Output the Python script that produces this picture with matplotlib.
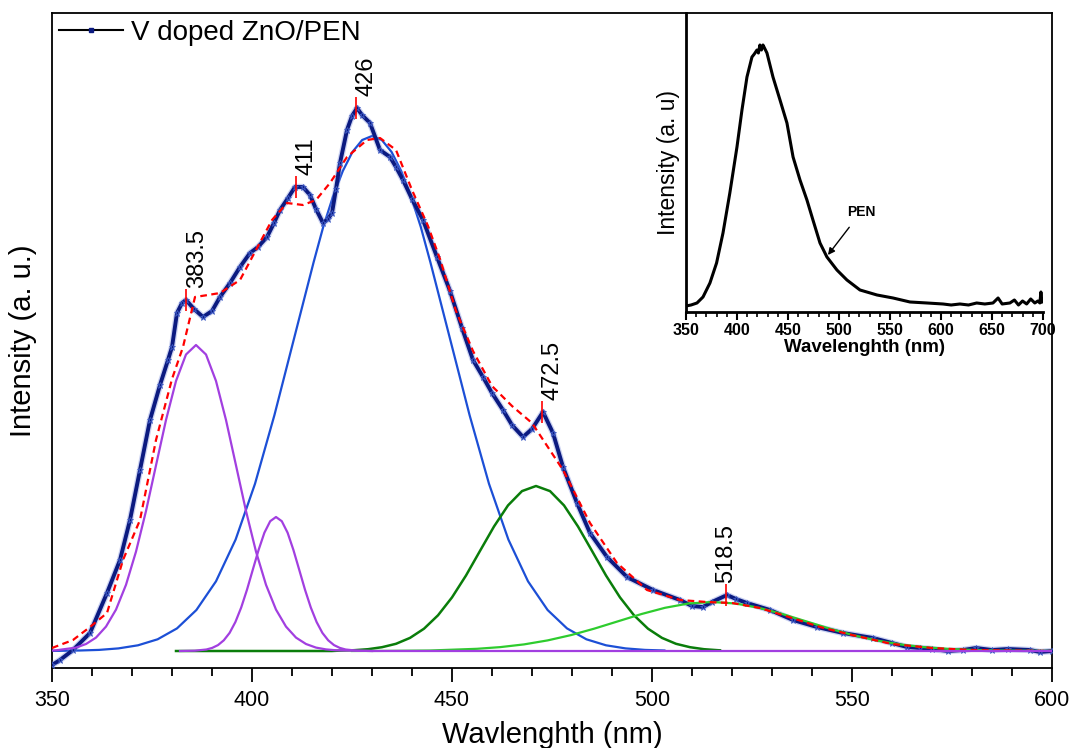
"""V掺杂ZnO/PEN 光致发光谱及高斯分峰拟合图 (插图为PEN衬底的PL谱)."""
import matplotlib.pyplot as plt
from matplotlib.lines import Line2D
from matplotlib.ticker import MultipleLocator

plt.rcParams["font.family"] = ["Liberation Sans", "DejaVu Sans"]

# 实测光谱 (主图, 任意单位)
data_wl = [350, 352, 355.25, 359.5, 363.75, 367, 369.5, 372, 374.5, 377, 379, 380,
           381.25, 382.5, 383.5, 385.5, 387.75, 390, 392, 394.5, 397, 399.5, 401.5,
           403.75, 405.5, 407, 409, 410.75, 412.75, 414.5, 416, 417.75, 419, 420, 421,
           422, 423.75, 425, 426.25, 427.5, 429.5, 432, 434.5, 436, 437.75, 440,
           442.75, 446.25, 449.5, 452.5, 455.25, 457.75, 460, 462.75, 465, 467.75,
           470, 472.75, 475.25, 477.75, 481.25, 484.5, 488.75, 493.75, 500.25, 507,
           510, 512.75, 515, 518.75, 521, 523.75, 529.5, 535.25, 541.25, 547.75,
           555.25, 560, 563.75, 567, 570, 574, 577.75, 581, 585, 589, 594.5, 597, 600]
data_int = [-14, -9, 1, 18, 58, 91, 131, 181, 231, 266, 291, 304,
            338, 348, 351, 342, 334, 340, 354, 368, 384, 398, 404,
            414, 428, 441, 453, 464, 464, 456, 442, 428, 432, 438, 462,
            488, 521, 535, 543, 536, 528, 501, 494, 484, 471, 452,
            431, 394, 360, 323, 291, 274, 258, 241, 226, 214,
            222, 239, 218, 184, 148, 118, 94, 74, 61, 51,
            45, 44, 49, 56, 52, 48, 41, 31, 24, 18,
            13, 8, 4, 3, 2, 0, 1, 3, 1, 2, 1, -1, 0]

# 拟合总曲线 (红色虚线)
fit_wl = [350, 355.25, 359.5, 363.75, 367.75, 372, 376, 380, 382.75, 385.75, 389,
          392, 397, 401, 405, 408.75, 412.75, 416, 419.5, 423.75, 428.75, 432, 436,
          440, 444, 447, 451, 455.25, 460, 465, 470, 477.75, 484.5, 491.25, 498.75,
          507, 513.75, 520, 527, 535, 542, 550, 560, 570, 580, 590, 600]
fit_int = [3, 11, 24, 38, 91, 131, 211, 272, 304, 354, 356,
           358, 371, 401, 431, 448, 446, 451, 468, 494, 511, 513, 501,
           461, 425, 392, 340, 300, 265, 245, 228, 181, 128, 88, 61,
           51, 49, 48, 43, 33, 24, 16, 7, 3, 1, 0.5, 0]

# 分峰 1 (紫色, ~386 nm)
peak1_wl = [350, 351, 356, 358.5, 361, 363.5, 366, 368.5, 371, 373.5, 376, 378.5,
            381, 383.5, 386, 388.5, 391, 393.5, 396, 398.5, 401, 403.5, 406, 408.5,
            411, 413.5, 416, 418.5, 421, 430, 600]
peak1_int = [0.4, 0.7, 3.4, 7.0, 13.4, 24.4, 41.4, 66.2, 99.4, 140, 185.6, 231,
             270, 296.5, 306, 296.5, 270, 231, 185.6, 140, 99.4, 66.2, 41.4, 24.4,
             13.4, 7.0, 3.4, 1.6, 0.7, 0, 0]

# 分峰 2 (紫色, ~406 nm)
peak2_wl = [382, 385.7, 388.6, 390.05, 391.5, 392.95, 394.4, 395.85, 397.3, 398.75,
            400.2, 401.65, 403.1, 404.55, 406, 407.45, 408.9, 410.35, 411.8, 413.25,
            414.7, 416.15, 417.6, 419.05, 420.5, 421.95, 423.4, 426.3, 430]
peak2_int = [0, 0.3, 1.5, 3.1, 5.9, 10.7, 18.1, 29, 43.5, 61.3,
             81.3, 101.1, 118.3, 129.8, 134, 129.8, 118.3, 101.1, 81.3, 61.3,
             43.5, 29, 18.1, 10.7, 5.9, 3.1, 1.5, 0.3, 0]

# 分峰 3 (蓝色, ~430 nm)
peak3_wl = [350, 352, 356.9, 361.75, 366.6, 371.5, 376.4, 381.25, 386.1, 391, 395.9,
            400.75, 405.6, 410.5, 415.4, 417.8, 420.25, 422.7, 425.1, 427.55, 430,
            432.45, 434.9, 437.3, 439.75, 442.2, 444.6, 449.5, 454.4, 459.25, 464.1,
            469, 473.9, 478.75, 483.6, 488.5, 493.4, 498.25, 503.1]
peak3_int = [0.1, 0.2, 0.5, 1.1, 2.6, 5.7, 11.7, 22.6, 41, 69.7, 111.4,
             167.2, 235.8, 312.3, 388.7, 424, 454.5, 480, 499, 511, 515,
             511, 499, 480, 454.5, 424, 388.7, 312.3, 235.8, 167.2, 111.4,
             69.7, 41, 22.6, 11.7, 5.7, 2.6, 1.1, 0.5]

# 分峰 4 (深绿, ~471 nm)
peak4_wl = [381, 420, 422, 425.5, 429, 432.5, 436, 439.5, 443, 446.5, 450, 453.5,
            457, 460.5, 464, 467.5, 471, 474.5, 478, 481.5, 485, 488.5, 492, 495.5,
            499, 502.5, 506, 509.5, 513, 516.5, 517]
peak4_int = [0, 0, 0.4, 0.8, 1.8, 3.8, 7.2, 13.1, 22.3, 35.7, 53.6, 75.5,
             100.1, 124.5, 145.6, 159.9, 165, 159.9, 145.6, 124.5, 100.1, 75.5, 53.6, 35.7,
             22.3, 13.1, 7.2, 3.8, 1.8, 0.8, 0.7]

# 分峰 5 (浅绿, ~515 nm)
peak5_wl = [425, 432.75, 444.5, 456.25, 462.1, 468, 473.9, 479.75, 485.6, 491.5,
            497.4, 503.25, 509.1, 515, 520.9, 526.75, 532.6, 538.5, 544.4, 550.25,
            556.1, 562, 567.9, 573.75, 579.6, 585.5, 600]
peak5_int = [0, 0.1, 0.5, 2.2, 3.9, 6.6, 10.6, 15.9, 22.4, 29.7,
             37, 43.2, 47.5, 49, 47.5, 43.2, 37, 29.7, 22.4, 15.9,
             10.6, 6.6, 3.9, 2.2, 1.1, 0.5, 0.1]

# 标注的峰位及其强度
peak_wl = [383.5, 411, 426, 472.5, 518.5]
peak_int = [351, 464, 543, 239, 56]
label_ha = ["left", "left", "left", "left", "center"]

# 插图: PEN衬底 PL 谱
pen_wl = [350, 355, 360.8, 366.7, 373.5, 380, 386.3, 393, 400, 404.9, 409.8, 414.7,
          417, 419.6, 421, 422.5, 424, 425.5, 427, 429.4, 435.3, 442.2, 449, 455,
          461.8, 468.6, 474.5, 481.4, 488.2, 498, 507.8, 520.6, 537.3, 553, 569.6,
          586.3, 602, 610, 618.6, 627, 635, 643, 651, 656, 660, 667.6, 672, 676,
          680, 684, 688, 692, 695, 697, 698, 699]
pen_int = [6, 7, 9, 15, 29, 49, 79, 119, 165, 202, 235, 255,
           258, 262, 259, 267, 262, 267, 264, 259, 235, 212, 189, 155,
           132, 112, 92, 69, 55, 42, 32, 22, 17, 14, 10,
           9, 8, 7, 8, 7, 9, 8, 9, 14, 8, 9, 12, 7,
           11, 8, 13, 9, 11, 9, 20, 10]

NAVY = "#0b1a80"


def main() -> None:
    """绘制主图和插图并保存为 out.png."""
    fig = plt.figure(figsize=(10.73, 7.48), dpi=100)
    ax = fig.add_axes([0.04846, 0.10695, 0.93197, 0.87567])

    # 分峰曲线
    ax.plot(peak3_wl, peak3_int, color="#1c4fd6", lw=1.6, zorder=2)
    ax.plot(peak4_wl, peak4_int, color="#0a7d0a", lw=1.8, zorder=2)

    # 实测数据 (深蓝带 + 星号)
    ax.plot(data_wl, data_int, color="#6f82da", lw=4.6, alpha=0.35, zorder=3,
            solid_capstyle="round")
    ax.plot(data_wl, data_int, color=NAVY, lw=2.8, zorder=3.1, marker="*",
            ms=5, mec="#3f5cc7", mew=0.6, solid_joinstyle="round")

    ax.plot(peak5_wl, peak5_int, color="#2ecc2e", lw=1.6, zorder=4)
    ax.plot(fit_wl, fit_int, color="red", lw=1.6, ls=(0, (3, 2)), zorder=5)
    ax.plot(peak2_wl, peak2_int, color="#a23fe0", lw=1.6, zorder=6)
    ax.plot(peak1_wl, peak1_int, color="#a23fe0", lw=1.6, zorder=6)

    # 峰位标注
    for w, v, ha in zip(peak_wl, peak_int, label_ha):
        ax.vlines(w, v - 11, v + 11, color="red", lw=1.2, zorder=7)
        ax.text(w, v + 12, f"{w:g}", rotation=90, ha=ha, va="bottom",
                fontsize=17, zorder=8)

    ax.set_xlim(350, 600)
    ax.set_ylim(-17, 638)
    ax.set_yticks([])
    ax.set_xticks(range(350, 601, 50))
    ax.xaxis.set_minor_locator(MultipleLocator(10))
    ax.tick_params(axis="x", which="major", direction="out", length=10,
                   width=1.3, labelsize=15.5, pad=6)
    ax.tick_params(axis="x", which="minor", direction="out", length=5.5, width=1.3)
    for sp in ax.spines.values():
        sp.set_linewidth(1.3)

    ax.set_xlabel("Wavlenghth (nm)", fontsize=21, labelpad=7)
    ax.set_ylabel("Intensity (a. u.)", fontsize=21, labelpad=11)

    handle = Line2D([], [], color="k", lw=1.5, marker="s", ms=3,
                    mfc=NAVY, mec=NAVY)
    ax.legend([handle], ["V doped ZnO/PEN"], loc="upper left", frameon=False,
              fontsize=20, handlelength=2.3, handletextpad=0.3,
              borderaxespad=0.1, borderpad=0.15)

    # 插图
    axin = fig.add_axes([0.6393, 0.5829, 0.3327, 0.3997])
    axin.set_facecolor("none")
    axin.plot(pen_wl, pen_int, color="k", lw=2.2, solid_joinstyle="round")
    axin.set_xlim(350, 700)
    axin.set_ylim(0, 299)
    axin.spines["top"].set_visible(False)
    axin.spines["right"].set_visible(False)
    axin.spines["left"].set_linewidth(2)
    axin.spines["bottom"].set_linewidth(2)
    axin.set_yticks([])
    axin.set_xticks(range(350, 701, 50))
    axin.xaxis.set_minor_locator(MultipleLocator(10))
    axin.tick_params(axis="x", which="major", direction="out", length=6,
                     width=1.5, labelsize=11.5, pad=2)
    axin.tick_params(axis="x", which="minor", direction="out", length=3.5,
                     width=1.2)
    for lab in axin.get_xticklabels():
        lab.set_fontweight("bold")
    axin.set_xlabel("Wavelenghth (nm)", fontsize=13.5, fontweight="bold",
                    labelpad=1)
    axin.set_ylabel("Intensity (a. u)", fontsize=16.5, labelpad=4)
    axin.annotate("PEN", xy=(489.2, 57), xytext=(521.6, 100), fontsize=10,
                  fontweight="bold", ha="center", va="center",
                  arrowprops={"arrowstyle": "-|>", "color": "k", "lw": 1,
                              "shrinkA": 5, "shrinkB": 0,
                              "mutation_scale": 10})

    fig.savefig("out.png", dpi=100)


if __name__ == "__main__":
    main()
